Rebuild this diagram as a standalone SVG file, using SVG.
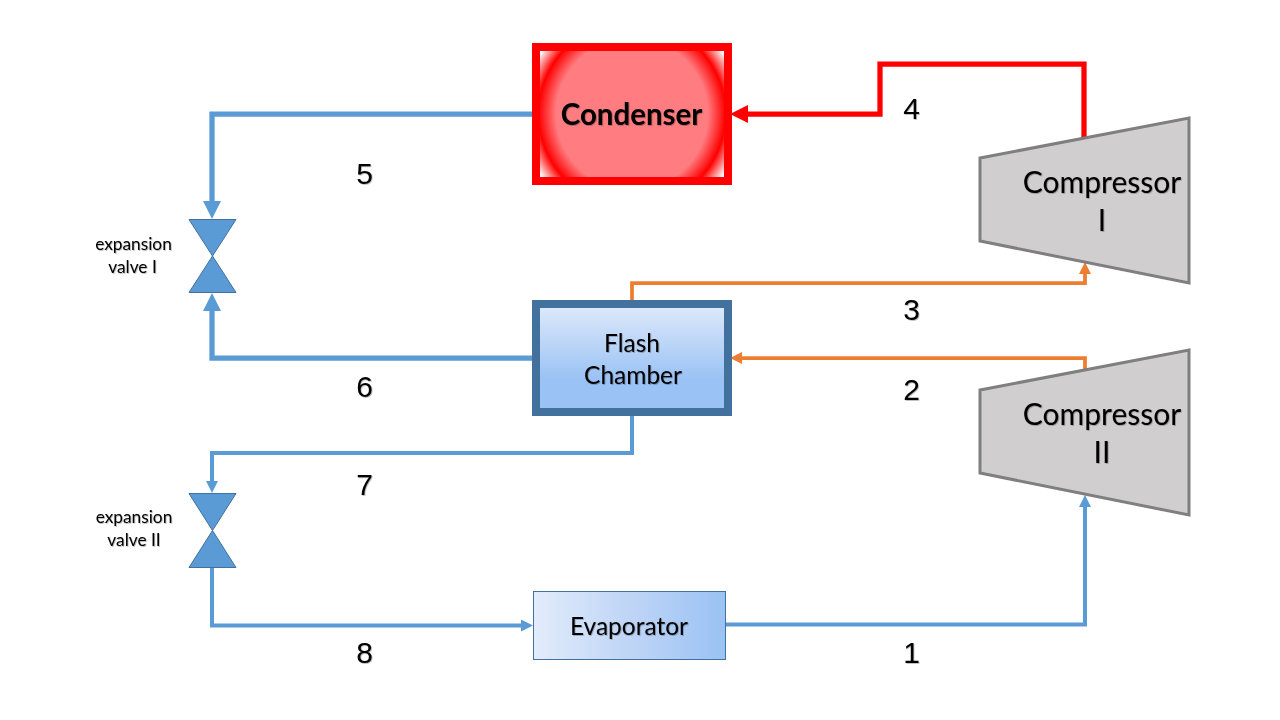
<svg xmlns="http://www.w3.org/2000/svg" width="1280" height="720" viewBox="0 0 1280 720">
<style>
text{font-family:Lato,"Liberation Sans",sans-serif;fill:#000;text-anchor:middle;filter:url(#ts)}
.lab{font-size:30px;font-family:"Liberation Sans",Lato,sans-serif}
.big{font-size:30px}
.cond{font-size:29.500px}
.med{font-size:24.500px}
.sm{font-size:17.300px}
.valve{fill:#5b9bd5;stroke:#41719c;stroke-width:1}
.comp{fill:#d0cece;stroke:#7f7f7f;stroke-width:3}
.c{fill:none;stroke-linejoin:miter}
.blue{stroke:#5b9bd5}
.orange{stroke:#ed7d31}
.red{stroke:#ff0000}
</style>
<defs>
<filter id="ts" x="-10%" y="-20%" width="120%" height="140%"><feDropShadow dx="0.8" dy="0.8" stdDeviation="0.6" flood-color="#000" flood-opacity="0.3"/></filter>
<radialGradient id="gc" gradientUnits="userSpaceOnUse" cx="632" cy="114" r="110">
<stop offset="0" stop-color="#ff7c80"/><stop offset="0.69" stop-color="#ff7c80"/><stop offset="0.85" stop-color="#ff0000"/><stop offset="1" stop-color="#ffffff"/>
</radialGradient>
<linearGradient id="gf" x1="0" y1="0" x2="0" y2="1">
<stop offset="0" stop-color="#e0eafa"/><stop offset="0.7" stop-color="#9ac2f4"/><stop offset="1" stop-color="#9ac2f4"/>
</linearGradient>
<linearGradient id="ge" x1="0" y1="0" x2="1" y2="0">
<stop offset="0" stop-color="#e2ecfb"/><stop offset="0.5" stop-color="#bfd5f6"/><stop offset="1" stop-color="#9ac2f4"/>
</linearGradient>
<marker id="ab" markerUnits="userSpaceOnUse" markerWidth="20" markerHeight="20" refX="1" refY="9" orient="auto"><path d="M0 0L18 9L0 18Z" fill="#5b9bd5"/></marker>
<marker id="abs" markerUnits="userSpaceOnUse" markerWidth="14" markerHeight="14" refX="1" refY="6" orient="auto"><path d="M0 0L12 6L0 12Z" fill="#5b9bd5"/></marker>
<marker id="ao" markerUnits="userSpaceOnUse" markerWidth="14" markerHeight="14" refX="1" refY="6" orient="auto"><path d="M0 0L12 6L0 12Z" fill="#ed7d31"/></marker>
<marker id="ar" markerUnits="userSpaceOnUse" markerWidth="20" markerHeight="20" refX="1" refY="9" orient="auto"><path d="M0 0L18 9L0 18Z" fill="#ff0000"/></marker>
</defs>
<rect width="1280" height="720" fill="#fff"/>
<g id="connectors">
<path class="c blue" stroke-width="5.250" d="M536 114H212V202" marker-end="url(#ab)"/>
<path class="c blue" stroke-width="5.250" d="M536 358H212V310" marker-end="url(#ab)"/>
<path class="c blue" stroke-width="4" d="M632 414V453H212V482" marker-end="url(#abs)"/>
<path class="c blue" stroke-width="4" d="M212 567V625.500H522" marker-end="url(#abs)"/>
<path class="c blue" stroke-width="4" d="M725 624.500H1085V506" marker-end="url(#abs)"/>
<path class="c orange" stroke-width="3.750" d="M1085 370V358H741" marker-end="url(#ao)"/>
<path class="c orange" stroke-width="3.750" d="M632 302V283H1085V273" marker-end="url(#ao)"/>
<path class="c red" stroke-width="5.250" d="M1084 138V64H880V114H747" marker-end="url(#ar)"/>
</g>
<g id="condenser">
<rect x="536" y="47" width="192" height="134" fill="url(#gc)" stroke="#ff0000" stroke-width="8"/>
<text class="cond" x="631.500" y="125" font-weight="700">Condenser</text>
</g>
<g id="flash-chamber">
<rect x="536" y="304" width="192" height="108" fill="url(#gf)" stroke="#41719c" stroke-width="8"/>
<text class="med" x="632" y="351.500">Flash</text>
<text class="med" x="633" y="383.500">Chamber</text>
</g>
<g id="evaporator">
<rect x="533.500" y="591.500" width="192" height="68" fill="url(#ge)" stroke="#41719c" stroke-width="1"/>
<text class="med" x="629" y="634.500">Evaporator</text>
</g>
<g id="compressor-1">
<path class="comp" d="M980 158L1189 118V283L980 241Z"/>
<text class="big" x="1102" y="192.500">Compressor</text>
<text class="big" x="1102" y="230.500">I</text>
</g>
<g id="compressor-2">
<path class="comp" d="M980 390L1189 350V515L980 473Z"/>
<text class="big" x="1102" y="424.500">Compressor</text>
<text class="big" x="1102" y="462.500">II</text>
</g>
<g id="valve-1">
<path class="valve" d="M189 219.500H236L212.500 256Z"/>
<path class="valve" d="M189 292.500H236L212.500 256Z"/>
<text class="sm" x="133.500" y="250">expansion</text>
<text class="sm" x="132.500" y="273">valve I</text>
</g>
<g id="valve-2">
<path class="valve" d="M189 493.500H236L212.500 530.500Z"/>
<path class="valve" d="M189 567.500H236L212.500 530.500Z"/>
<text class="sm" x="134" y="523">expansion</text>
<text class="sm" x="134" y="546">valve II</text>
</g>
<g id="state-labels">
<text class="lab" x="911.500" y="119">4</text>
<text class="lab" x="364.500" y="184">5</text>
<text class="lab" x="911.500" y="320">3</text>
<text class="lab" x="364.500" y="397">6</text>
<text class="lab" x="911.500" y="400">2</text>
<text class="lab" x="364.500" y="495">7</text>
<text class="lab" x="364.500" y="663">8</text>
<text class="lab" x="911.500" y="663">1</text>
</g>
</svg>
